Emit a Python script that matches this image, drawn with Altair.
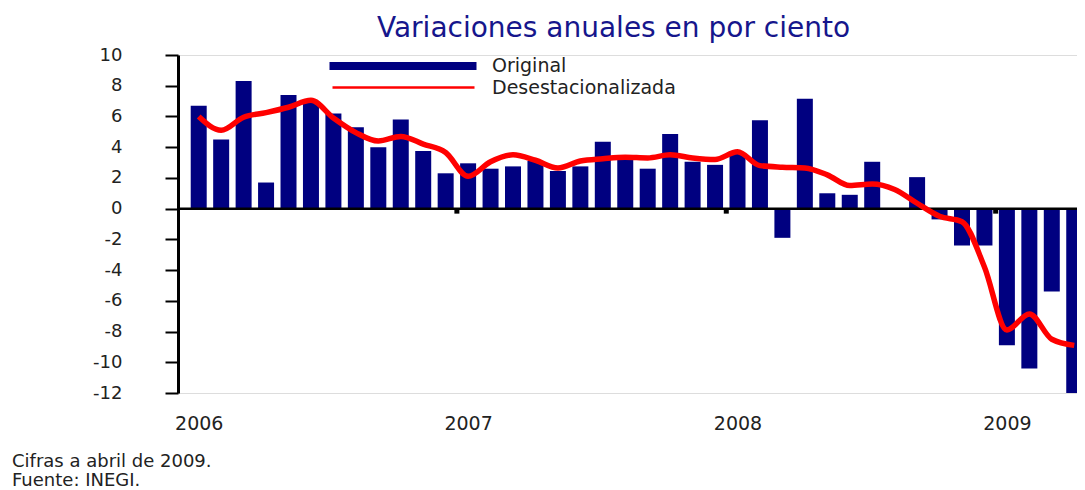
import json
import altair as alt
import pandas as pd

FONT = "DejaVu Sans"

titulo = "Variaciones anuales en por ciento"
anios = ["2006", "2007", "2008", "2009"]
series = ["Original", "Desestacionalizada"]
notas = ["Cifras a abril de 2009.", "Fuente: INEGI."]

# meses desde enero de 2006 hasta abril de 2009
meses = list(range(40))

original = [
    6.7, 4.5, 8.3, 1.7, 7.4, 7.0, 6.2, 5.3, 4.0, 5.8, 3.75, 2.3,
    2.95, 2.6, 2.75, 3.1, 2.45, 2.75, 4.35, 3.25, 2.6, 4.85, 3.05, 2.85,
    3.6, 5.75, -1.9, 7.15, 1.0, 0.9, 3.05, 0.0, 2.05, -0.7, -2.4, -2.4,
    -8.9, -10.4, -5.4, -12.2,
]

desestacionalizada = [
    6.0, 5.1, 5.95, 6.25, 6.6, 7.05, 5.9, 4.95, 4.4, 4.7, 4.2, 3.65,
    2.1, 3.05, 3.5, 3.15, 2.65, 3.1, 3.25, 3.35, 3.3, 3.5, 3.3, 3.2,
    3.7, 2.8, 2.7, 2.65, 2.2, 1.5, 1.6, 1.25, 0.35, -0.5, -0.85, -3.8,
    -7.9, -6.85, -8.5, -8.9,
]

df = pd.DataFrame({
    "mes": meses,
    "original": original,
    "desest": desestacionalizada,
    "serie_o": series[0],
    "serie_d": series[1],
})

limites = pd.DataFrame({"lim": [12 * k - 0.5 for k in range(1, len(anios))]})
cero = pd.DataFrame({"cero": [0]})

xscale = alt.Scale(domain=[-0.70, 38.9], nice=False, zero=False)
yscale = alt.Scale(domain=[-12, 10], nice=False)

x_axis = alt.Axis(
    values=[12 * i for i in range(len(anios))],
    labelExpr=f"{json.dumps(anios)}[round(datum.value / 12)]",
    domain=False, ticks=False, grid=False, title=None,
    labelFont=FONT, labelFontSize=19, labelColor="#222222",
    labelPadding=21, labelFlush=False, labelOverlap=False,
)
y_axis = alt.Axis(
    values=list(range(-12, 11, 2)),
    labelExpr="'' + datum.value",
    domainColor="black", domainWidth=3,
    tickColor="black", tickWidth=2, tickSize=13,
    grid=False, title=None, labelOverlap=False, labelFlush=False,
    labelFont=FONT, labelFontSize=18, labelColor="#222222", labelPadding=43,
)

bars = alt.Chart(df).mark_bar(size=16, clip=True).encode(
    x=alt.X("mes:Q", scale=xscale, axis=x_axis),
    y=alt.Y("original:Q", scale=yscale, axis=y_axis),
    color=alt.Color(
        "serie_o:N",
        scale=alt.Scale(domain=[series[0]], range=["#000080"]),
        legend=alt.Legend(
            orient="none", legendX=215.5, legendY=1.5, title=None, padding=0,
            symbolType="M-73.5,-4H73.5V4H-73.5Z", symbolSize=4,
            symbolStrokeWidth=0, symbolOpacity=1,
            labelFont=FONT, labelFontSize=19, labelColor="#222222",
            labelOffset=79.5, labelLimit=400,
        ),
    ),
)

zero_rule = alt.Chart(cero).mark_rule(color="black", strokeWidth=2.5).encode(
    y=alt.Y("cero:Q", scale=yscale, axis=y_axis),
)

year_ticks = alt.Chart(limites).mark_rule(
    color="black", strokeWidth=5, y2Offset=5
).encode(
    x=alt.X("lim:Q", scale=xscale, axis=x_axis),
    y=alt.Y(datum=0, scale=yscale, axis=y_axis),
    y2=alt.Y2(datum=0),
)

line = alt.Chart(df).mark_line(
    strokeWidth=5.5, interpolate="monotone", clip=True
).encode(
    x=alt.X("mes:Q", scale=xscale, axis=x_axis),
    y=alt.Y("desest:Q", scale=yscale, axis=y_axis),
    color=alt.Color(
        "serie_d:N",
        scale=alt.Scale(domain=[series[1]], range=["#ff0000"]),
        legend=alt.Legend(
            orient="none", legendX=216, legendY=23, title=None, padding=0,
            symbolType="M-71,0H71", symbolSize=4, symbolStrokeWidth=2.5,
            labelFont=FONT, labelFontSize=19, labelColor="#222222",
            labelOffset=79, labelLimit=400,
        ),
    ),
)

footnote = alt.Chart(cero).mark_text(
    text=notas, align="left", baseline="top", font=FONT, fontSize=18,
    lineHeight=19, color="#222222",
).encode(x=alt.value(-166), y=alt.value(398))

chart = alt.layer(bars, zero_rule, year_ticks, line, footnote).resolve_scale(
    color="independent"
).resolve_legend(color="independent").properties(
    width=899,
    height=338,
    autosize=alt.AutoSizeParams(type="none"),
    padding={"left": 170, "top": 47, "right": 0, "bottom": 98},
    title=alt.TitleParams(
        text=titulo, font=FONT, fontSize=28, fontWeight="normal",
        color="#16168c", anchor="middle", frame="group", offset=3, dx=-14,
    ),
).configure_view(stroke=None).configure(background="white")

chart.save("out.html", embed_options={"renderer": "svg", "actions": False})
